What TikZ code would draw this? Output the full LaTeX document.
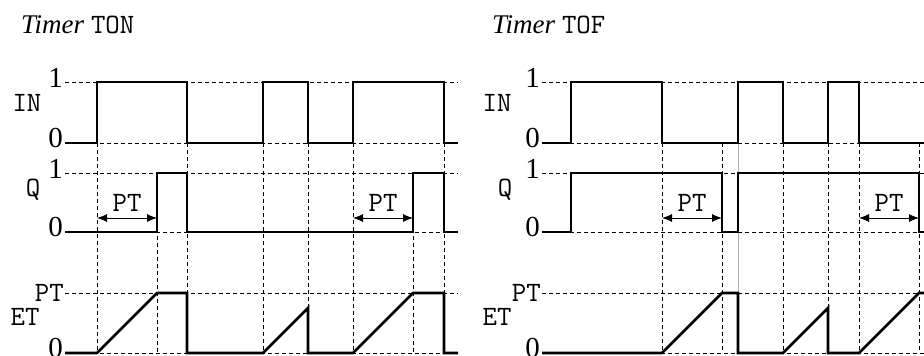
\documentclass[tikz,border=0pt]{standalone}
\usepackage{fontspec}
\setmainfont{Liberation Serif}
\usetikzlibrary{arrows.meta}

\begin{document}
\begin{tikzpicture}[x=1pt,y=-1pt,
  sig/.style={line width=2.6pt,line join=miter},
  guide/.style={line width=0.8pt,dash pattern=on 4pt off 3pt},
  lvl/.style={font=\fontsize{29}{29}\selectfont,anchor=base east,inner sep=0pt},
  sname/.style={font=\ttfamily\fontsize{28}{28}\selectfont,inner sep=0pt},
  span/.style={{Latex[length=10pt,width=8pt]}-{Latex[length=10pt,width=8pt]},line width=0.8pt}]
\useasboundingbox (0,0) rectangle (924,356);
\clip (0,0) rectangle (924,356);

% Timer TON
\node[anchor=base west,inner sep=0pt,font=\fontsize{27}{27}\selectfont] (tonTitle) at (21,33) {\textit{Timer} {\ttfamily\fontsize{28}{28}\selectfont TON}};
\begin{scope}[xshift=65pt]
  \foreach \y/\n in {82/1,173/1} \node[lvl] (ton\y) at (-2,\y+5) {\n};
  \foreach \y in {143,232,353} \node[lvl] (ton\y) at (-2,\y+4) {0};
  \node[lvl,anchor=east] (tonPT) at (-1,293) {\ttfamily\fontsize{28}{28}\selectfont PT};
  \node[sname] (tonIN) at (-38,103) {IN};
  \node[sname] (tonQ) at (-32,190) {Q};
  \node[sname] (tonET) at (-40,317) {ET};
  \foreach \y in {82,143,173,232,293,353} \draw[guide] (0,\y) -- (393,\y);
  \foreach \x in {32,122,198,243,288,379} \draw[guide] (\x,143) -- (\x,353);
  \foreach \x in {92,348} \draw[guide] (\x,173) -- (\x,353);
  % signals
  \draw[sig] (0,143) -- (32,143) -- (32,82) -- (122,82) -- (122,143) -- (198,143) -- (198,82) -- (243,82) -- (243,143) -- (288,143) -- (288,82) -- (379,82) -- (379,143) -- (393,143);
  \draw[sig] (0,232) -- (92,232) -- (92,173) -- (122,173) -- (122,232) -- (348,232) -- (348,173) -- (379,173) -- (379,232) -- (393,232);
  \draw[sig] (0,353) -- (32,353) -- (92,293) -- (122,293) -- (122,353) -- (198,353) -- (243,308) -- (243,353) -- (288,353) -- (348,293) -- (379,293) -- (379,353) -- (393,353);
  % PT spans
  \foreach \a/\b in {32/92,288/348} {
    \coordinate (tonA\a) at (\a,218);
    \coordinate (tonB\a) at (\b,218);
    \draw[span] (tonA\a) -- (tonB\a) node[midway,above=6pt,sname] {PT};
  }
\end{scope}

% Timer TOF
\node[anchor=base west,inner sep=0pt,font=\fontsize{27}{27}\selectfont] (tofTitle) at (492,33) {\textit{Timer} {\ttfamily\fontsize{28}{28}\selectfont TOF}};
\begin{scope}[xshift=542pt]
  \foreach \y/\n in {82/1,173/1} \node[lvl] (tof\y) at (-2,\y+5) {\n};
  \foreach \y in {143,232,353} \node[lvl] (tof\y) at (-2,\y+4) {0};
  \node[lvl,anchor=east] (tofPT) at (-1,293) {\ttfamily\fontsize{28}{28}\selectfont PT};
  \node[sname] (tofIN) at (-45,103) {IN};
  \node[sname] (tofQ) at (-37,190) {Q};
  \node[sname] (tofET) at (-45,317) {ET};
  \foreach \y in {82,143,173,232,293,353} \draw[guide] (0,\y) -- (400,\y);
  \foreach \x in {120,180,241,286,317,377} \draw[guide] (\x,143) -- (\x,353);
  \draw[gray!60,line width=0.8pt] (196,143) -- (196,353);
  % signals
  \draw[sig] (0,143) -- (29,143) -- (29,82) -- (120,82) -- (120,143) -- (196,143) -- (196,82) -- (241,82) -- (241,143) -- (286,143) -- (286,82) -- (317,82) -- (317,143) -- (400,143);
  \draw[sig] (0,232) -- (29,232) -- (29,173) -- (180,173) -- (180,232) -- (196,232) -- (196,173) -- (377,173) -- (377,232) -- (400,232);
  \draw[sig] (0,353) -- (120,353) -- (180,293) -- (196,293) -- (196,353) -- (241,353) -- (286,308) -- (286,353) -- (317,353) -- (377,293) -- (400,293);
  % PT spans
  \foreach \a/\b in {120/180,317/377} {
    \coordinate (tofA\a) at (\a,218);
    \coordinate (tofB\a) at (\b,218);
    \draw[span] (tofA\a) -- (tofB\a) node[midway,above=6pt,sname] {PT};
  }
\end{scope}
\end{tikzpicture}
\end{document}
